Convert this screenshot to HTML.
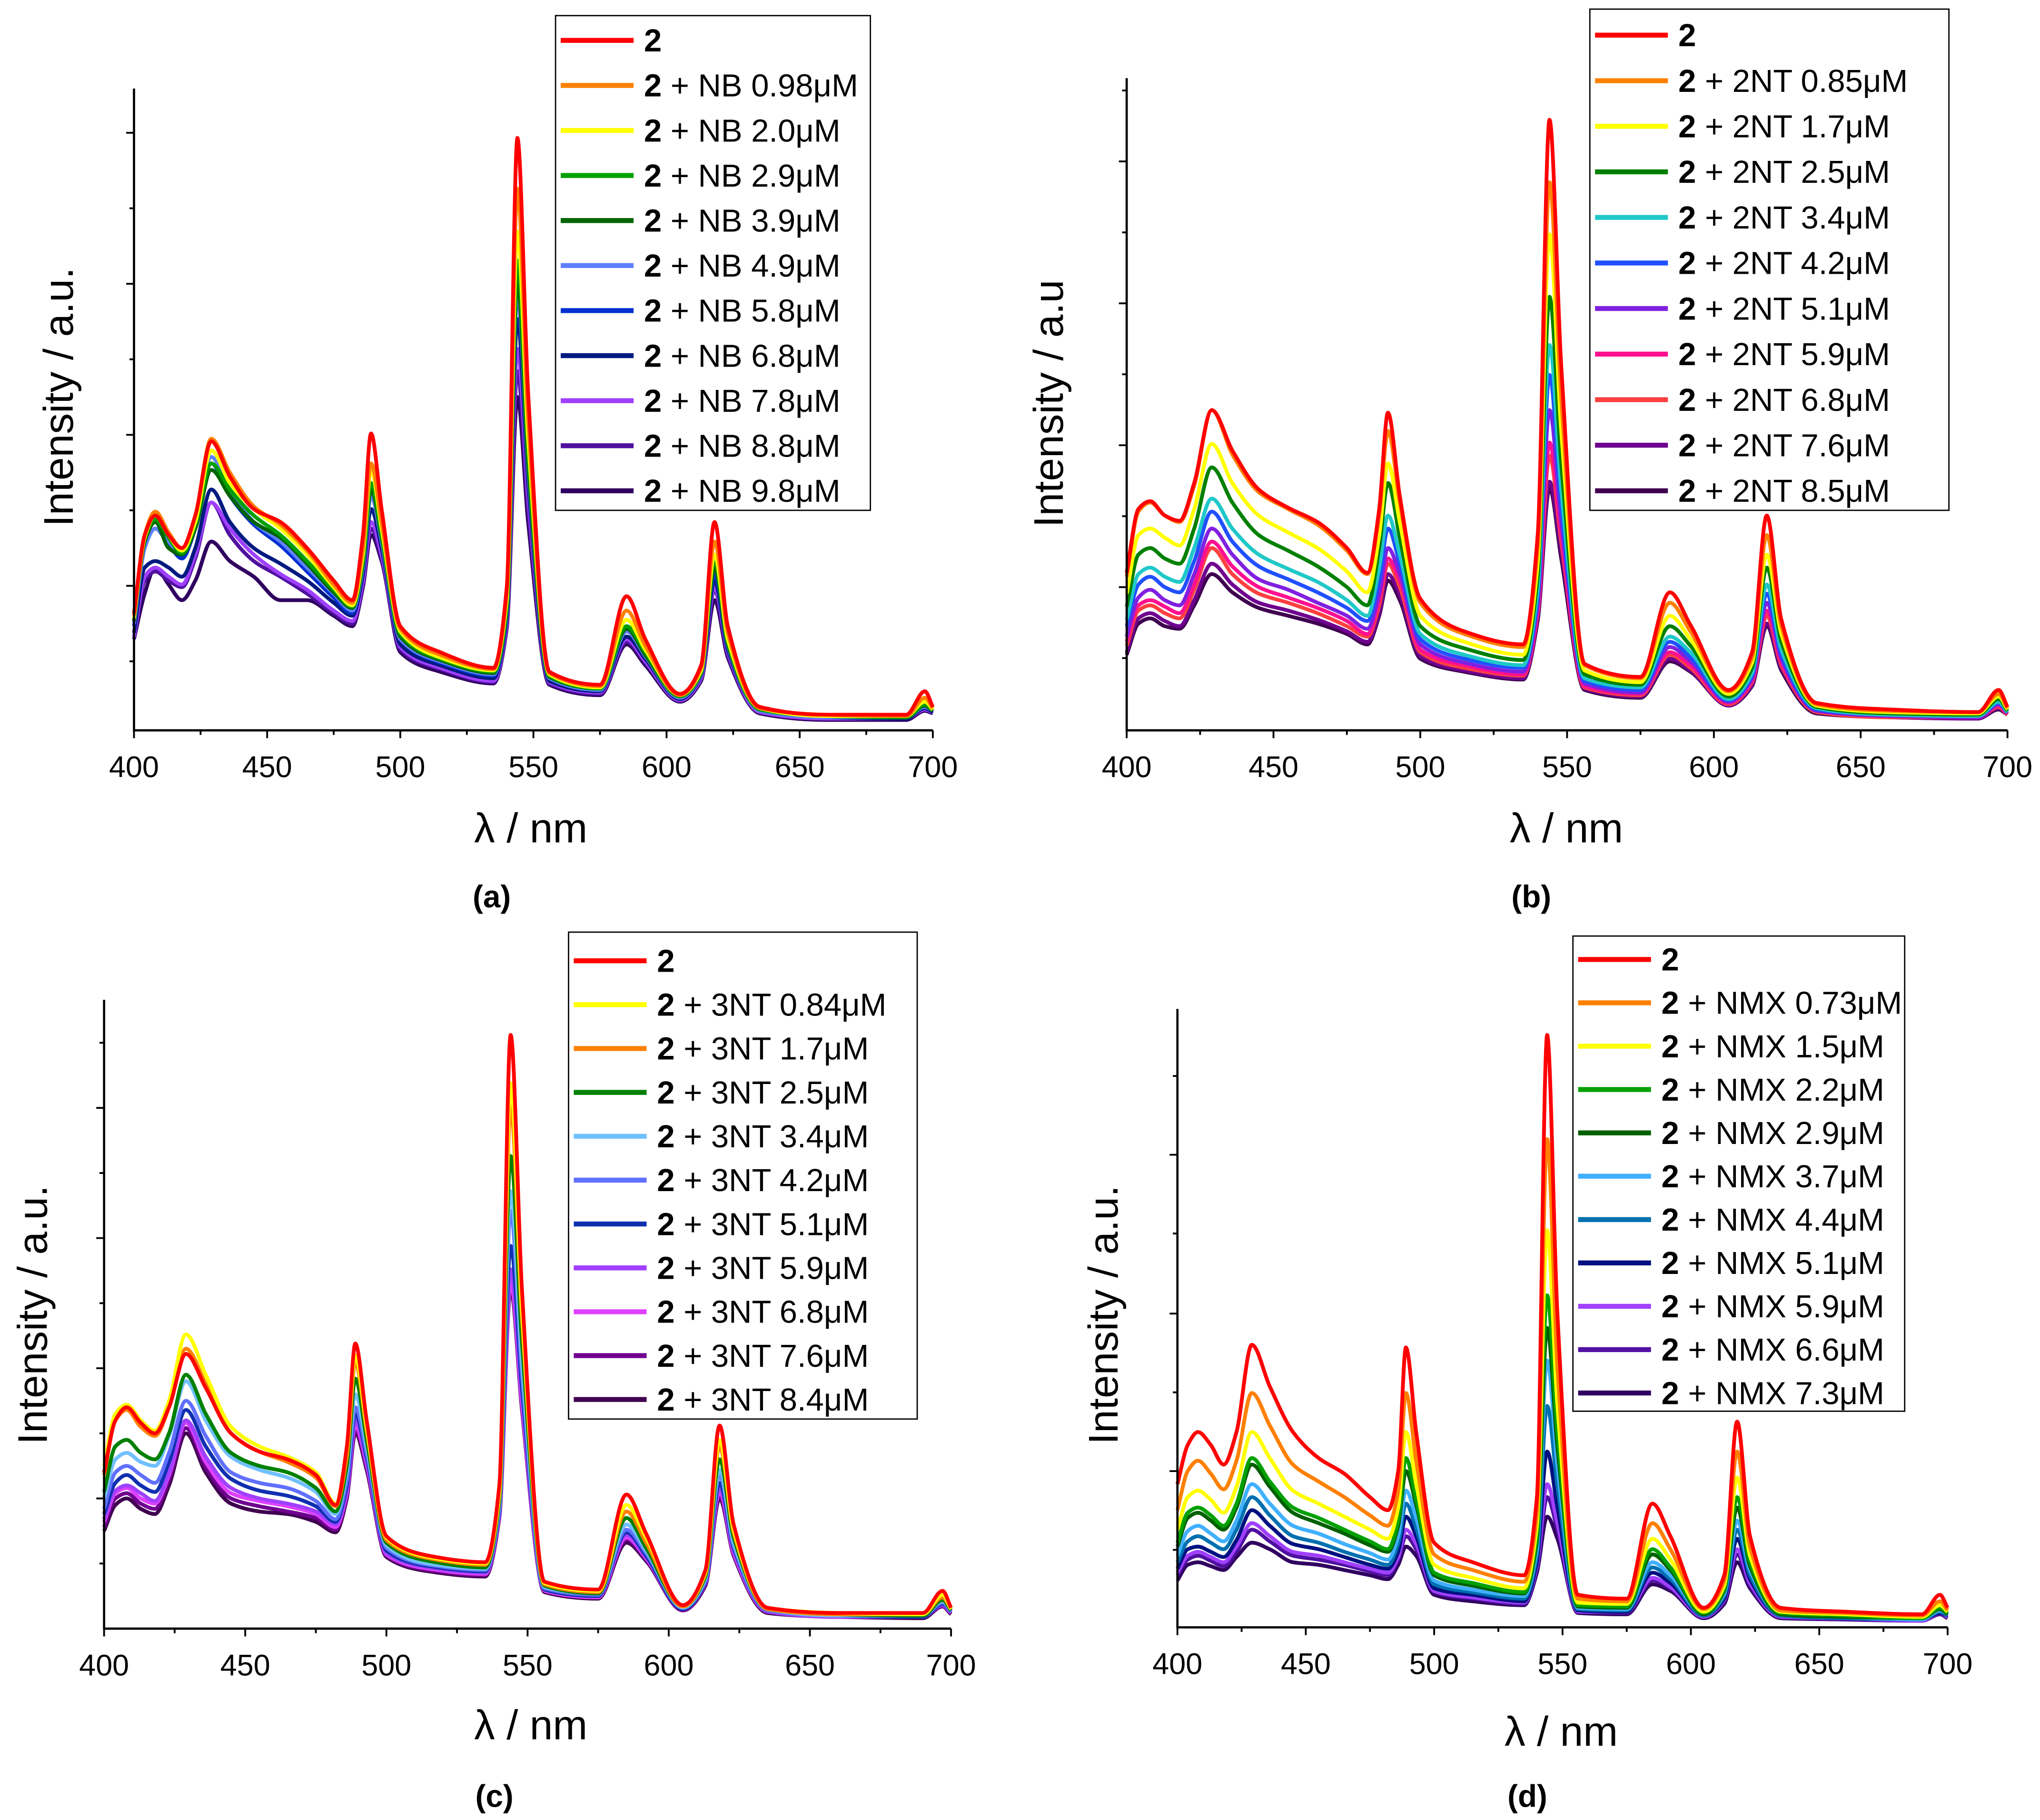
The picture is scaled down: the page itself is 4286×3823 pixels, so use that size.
<!DOCTYPE html>
<html><head><meta charset="utf-8"><style>
html,body{margin:0;padding:0;background:#fff;}
svg{display:block;}
text{font-family:"Liberation Sans",sans-serif;}
</style></head><body>
<svg id="fig" width="4286" height="3823" viewBox="0 0 1568 1398" preserveAspectRatio="none" xmlns="http://www.w3.org/2000/svg"></svg>
<script>
const wavelengths=[400,404,408,413,418,423,429,436,445,455,465,475,482,486,489,493,500,515,535,540,544,548,556,575,585,592,605,613,618,623,635,660,690,697,700];
const xTickLabels=[400,450,500,550,600,650,700];

const seriesA=[
[90,150,165,150,140,165,222,195,170,160,140,115,100,150,228,170,80,60,48,110,455,260,45,35,103,70,28,50,160,80,18,12,12,30,18],
[88,150,168,152,140,165,224,198,172,158,138,112,98,140,205,160,78,58,47,105,416,240,44,34,92,65,27,48,145,75,17,12,11,25,17],
[86,148,165,150,138,160,215,190,170,155,135,110,96,135,200,155,76,56,46,100,383,225,43,33,85,62,27,46,135,70,17,11,11,22,16],
[85,148,162,148,136,158,205,185,165,150,130,108,95,130,190,150,74,55,45,95,361,215,42,32,80,60,26,45,130,68,16,11,10,20,16],
[84,145,160,140,135,155,200,180,160,148,128,106,94,128,185,148,72,54,44,92,346,205,41,32,78,58,26,44,125,66,16,11,10,19,15],
[82,140,155,145,135,158,210,185,160,145,125,105,92,125,180,145,70,53,43,90,339,200,40,31,76,57,25,43,125,65,15,10,10,18,15],
[80,140,155,143,132,155,205,180,158,142,122,102,90,128,185,145,70,52,42,90,336,200,40,31,76,57,25,43,120,64,15,10,10,18,15],
[75,125,130,125,118,140,185,160,140,128,115,98,88,120,170,140,66,50,40,86,316,190,38,30,72,55,24,42,115,62,15,10,9,17,14],
[72,118,125,118,112,135,175,155,135,120,108,92,84,115,160,135,64,48,38,82,293,180,37,29,70,53,23,40,110,60,14,9,9,16,14],
[70,115,122,115,110,132,175,150,130,118,105,90,82,112,155,132,62,47,37,80,276,170,36,28,68,52,23,40,108,58,14,9,9,16,13],
[70,105,125,112,100,115,145,130,118,100,100,88,80,110,150,130,60,45,36,78,256,160,35,27,66,50,22,38,100,56,13,8,8,15,13]];
const seriesB=[
[121,170,176,165,161,190,246,215,185,171,160,140,121,170,244,180,101,76,66,150,469,280,51,41,106,81,31,60,165,85,21,16,14,31,18],
[118,168,175,165,160,188,246,212,183,170,158,138,120,165,230,175,98,74,64,140,421,255,50,40,98,76,30,56,150,80,20,15,14,28,17],
[105,150,155,148,142,170,220,190,165,152,140,122,106,150,205,160,88,68,58,128,381,230,46,37,88,70,28,52,135,74,19,14,13,26,16],
[95,135,140,132,128,155,202,175,150,138,126,110,96,140,190,148,80,63,54,118,333,205,43,35,80,65,26,48,125,68,18,13,12,24,15],
[85,120,125,118,114,140,178,155,135,124,114,100,88,125,165,135,74,58,50,108,296,185,40,33,72,60,24,44,112,62,17,12,11,22,14],
[80,112,118,110,106,130,168,145,126,116,106,94,84,115,155,128,70,55,48,102,273,172,38,31,68,56,23,42,105,58,16,12,11,21,14],
[72,102,108,100,96,120,155,135,116,108,98,88,78,105,140,120,66,52,45,96,246,160,36,29,64,53,22,40,98,55,15,11,10,20,13],
[68,96,100,95,90,112,145,126,110,102,94,84,74,100,132,115,62,50,43,92,221,150,34,28,60,50,21,38,92,52,15,11,10,19,13],
[65,92,96,90,86,108,140,120,105,98,90,80,72,96,128,110,60,48,42,90,211,145,33,27,58,48,20,37,88,50,14,10,10,18,12],
[60,86,90,84,80,100,128,112,98,92,85,76,68,90,120,104,57,46,40,86,191,138,32,26,55,46,19,35,82,48,14,10,9,17,12],
[58,82,86,80,78,96,120,106,94,88,82,74,66,88,115,100,55,45,39,84,186,132,31,25,53,45,19,34,80,46,13,10,9,16,12]];
const seriesC=[
[120,160,170,158,150,170,211,185,150,136,130,118,95,140,219,160,71,56,51,110,456,260,36,30,103,73,18,45,156,80,16,12,12,29,16],
[125,165,172,160,152,175,226,195,155,140,132,120,96,138,210,155,70,55,50,105,419,245,35,29,95,70,18,43,145,76,16,12,11,26,15],
[118,160,168,155,148,170,215,188,150,136,128,116,94,132,205,152,68,54,49,102,401,238,34,28,90,66,17,42,140,74,15,11,11,24,15],
[105,140,145,135,130,150,195,165,135,125,120,108,90,125,192,145,66,52,47,98,363,220,33,27,85,62,17,40,130,70,15,11,10,22,14],
[100,130,135,128,125,148,190,160,132,122,116,105,88,120,180,140,64,50,46,95,336,205,32,27,80,60,16,38,122,66,15,10,10,21,14],
[92,120,125,118,112,135,175,148,120,112,108,98,84,114,170,135,62,49,45,92,321,195,31,26,76,58,16,37,118,64,14,10,10,20,13],
[88,112,118,110,105,128,168,140,115,106,102,94,82,110,165,132,60,48,44,90,294,185,30,25,74,56,15,36,112,62,14,10,9,19,13],
[84,106,110,104,98,120,160,132,108,100,96,90,80,106,160,128,58,47,43,88,276,178,30,25,72,55,15,35,108,60,13,9,9,18,12],
[82,104,108,100,96,118,158,128,104,98,94,88,78,104,156,126,57,46,42,87,266,172,29,24,70,54,15,35,105,58,13,9,9,18,12],
[78,100,104,96,92,114,154,124,100,94,90,85,76,102,152,124,56,45,41,86,266,170,29,24,68,53,14,34,102,57,13,9,9,17,12],
[75,95,100,92,88,110,150,120,96,90,88,82,74,100,150,122,55,44,40,85,261,168,28,23,66,52,14,33,100,56,12,9,8,17,11]];
const seriesD=[
[110,140,150,140,125,150,217,185,150,130,118,100,90,120,215,150,65,50,40,100,455,240,25,22,95,70,15,40,158,70,15,12,10,25,15],
[90,120,128,118,106,128,180,155,125,112,100,86,78,105,180,128,56,44,35,88,375,200,22,20,80,60,14,36,135,62,13,11,9,20,13],
[75,100,105,98,88,108,150,130,105,95,85,75,68,92,150,110,48,38,30,78,305,170,19,18,68,52,12,32,115,55,12,10,8,17,12],
[65,88,92,86,78,95,130,112,92,84,75,66,60,82,130,98,42,34,27,70,255,148,17,16,60,46,11,29,100,50,11,9,7,15,11],
[62,84,88,82,75,92,125,108,88,80,72,63,58,78,120,94,40,32,26,66,230,138,16,15,56,44,10,28,92,47,10,8,7,14,10],
[55,74,78,72,66,82,110,95,78,72,64,57,52,70,105,84,36,29,24,60,205,124,15,14,50,40,10,26,82,44,10,8,6,13,10],
[50,66,70,65,60,75,100,86,70,65,58,52,48,64,95,76,33,27,22,55,170,108,14,13,46,37,9,24,75,40,9,7,6,12,9],
[45,60,62,58,54,67,90,78,64,60,54,48,45,58,85,70,30,25,20,50,135,92,13,12,42,34,9,22,68,37,9,7,6,11,9],
[42,55,58,54,50,62,80,70,58,55,50,45,42,54,75,64,28,23,19,47,110,80,12,12,38,31,8,21,60,34,8,7,5,11,8],
[40,52,55,51,47,58,75,66,55,52,48,43,40,52,70,60,27,22,18,45,100,75,12,11,36,30,8,20,56,32,8,6,5,10,8],
[36,48,50,47,44,54,65,60,50,48,44,40,37,48,62,55,25,20,17,42,85,68,11,10,33,28,7,18,50,30,7,6,5,10,7]];

const labelsA=["","NB 0.98μM","NB 2.0μM","NB 2.9μM","NB 3.9μM","NB 4.9μM","NB 5.8μM","NB 6.8μM","NB 7.8μM","NB 8.8μM","NB 9.8μM"];
const labelsB=["","2NT 0.85μM","2NT 1.7μM","2NT 2.5μM","2NT 3.4μM","2NT 4.2μM","2NT 5.1μM","2NT 5.9μM","2NT 6.8μM","2NT 7.6μM","2NT 8.5μM"];
const labelsC=["","3NT 0.84μM","3NT 1.7μM","3NT 2.5μM","3NT 3.4μM","3NT 4.2μM","3NT 5.1μM","3NT 5.9μM","3NT 6.8μM","3NT 7.6μM","3NT 8.4μM"];
const labelsD=["","NMX 0.73μM","NMX 1.5μM","NMX 2.2μM","NMX 2.9μM","NMX 3.7μM","NMX 4.4μM","NMX 5.1μM","NMX 5.9μM","NMX 6.6μM","NMX 7.3μM"];

const yTicksA=[111,227,343,459], yTicksB=[110,219,328,437], yTicksC=[100,200,300,400], yTicksD=[120,241,363];

const colorsA=["#ff0000","#ff8000","#ffff00","#00a000","#006400","#6080ff","#0030d0","#001a80","#a040ff","#5010a0","#300060"];
const colorsB=["#ff0000","#ff8000","#ffff00","#008000","#20c8c8","#2050ff","#8020e0","#ff1090","#ff4040","#700090","#400050"];
const colorsC=["#ff0000","#ffff00","#ff8000","#008000","#70c0ff","#6070ff","#1030b0","#a040ff","#e040ff","#700090","#400050"];
const colorsD=["#ff0000","#ff8000","#ffff00","#00a000","#006000","#40b0ff","#0070b0","#001080","#a040ff","#5010a0","#300060"];

const panels=[
 {id:"a",x0:103,x1:717,yb:561,yt:68,ymax:493,series:seriesA,labels:labelsA,colors:colorsA,ticks:yTicksA,ytitle:"Intensity / a.u.",ytx:45,yty:305,xtx:408,xty:636,cap:[378,689],lg:[427,12,242,380,31,34.6]},
 {id:"b",x0:866,x1:1543,yb:561,yt:60,ymax:501,series:seriesB,labels:labelsB,colors:colorsB,ticks:yTicksB,ytitle:"Intensity / a.u",ytx:806,yty:310,xtx:1204,xty:636,cap:[1177,689],lg:[1222,7,276,385,27,35]},
 {id:"c",x0:80,x1:731,yb:1251,yt:768,ymax:483,series:seriesC,labels:labelsC,colors:colorsC,ticks:yTicksC,ytitle:"Intensity / a.u.",ytx:25,yty:1010,xtx:408,xty:1325,cap:[380,1380],lg:[437,716,268,374,738,33.7]},
 {id:"d",x0:905,x1:1497,yb:1250,yt:775,ymax:475,series:seriesD,labels:labelsD,colors:colorsD,ticks:yTicksD,ytitle:"Intensity / a.u.",ytx:848,yty:1010,xtx:1200,xty:1330,cap:[1174,1380],lg:[1209,719,255,365,737,33.3]}
];
const NS="http://www.w3.org/2000/svg";
const svg=document.getElementById('fig');
function mk(tag,attrs,parent){const e=document.createElementNS(NS,tag);for(const k in attrs)e.setAttribute(k,attrs[k]);(parent||svg).appendChild(e);return e;}
// monotone cubic (Fritsch-Carlson): no overshoot
function monotone(pts){
 const n=pts.length,dx=[],s=[],m=new Array(n);
 for(let i=0;i<n-1;i++){dx[i]=pts[i+1][0]-pts[i][0];s[i]=(pts[i+1][1]-pts[i][1])/dx[i];}
 m[0]=s[0];m[n-1]=s[n-2];
 for(let i=1;i<n-1;i++){
  if(s[i-1]*s[i]<=0)m[i]=0;
  else{const w1=2*dx[i]+dx[i-1],w2=dx[i]+2*dx[i-1];m[i]=(w1+w2)/(w1/s[i-1]+w2/s[i]);}
 }
 let d='M'+pts[0][0].toFixed(1)+' '+pts[0][1].toFixed(1);
 for(let i=0;i<n-1;i++){
  const h=dx[i]/3;
  d+=` C${(pts[i][0]+h).toFixed(1)} ${(pts[i][1]+m[i]*h).toFixed(1)} ${(pts[i+1][0]-h).toFixed(1)} ${(pts[i+1][1]-m[i+1]*h).toFixed(1)} ${pts[i+1][0].toFixed(1)} ${pts[i+1][1].toFixed(1)}`;
 }
 return d;
}

panels.forEach(p=>{
 const g=mk('g',{});
 
 
 const xs=v=>p.x0+(v-400)/300*(p.x1-p.x0);
 const ys=v=>p.yb-v/p.ymax*(p.yb-p.yt);
 for(let s=p.series.length-1;s>=0;s--){
  const pts=p.series[s].map((v,i)=>[xs(wavelengths[i]),ys(v)]);
  const path=mk('path',{d:monotone(pts),fill:'none',stroke:p.colors[s],'stroke-width':2.9,'stroke-linejoin':'round'},g);
  
  
 }
 const ax=mk('path',{d:`M${p.x0} ${p.yt} L${p.x0} ${p.yb} L${p.x1} ${p.yb}`,fill:'none',stroke:'#000','stroke-width':1.7},g);
 
 
 for(let v=400;v<=700;v+=25){
  const major=v%50===0;
  mk('line',{x1:xs(v),x2:xs(v),y1:p.yb,y2:p.yb+(major?6:3.5),stroke:'#000','stroke-width':1.4},g);
 }
 xTickLabels.forEach(v=>{
  const t=mk('text',{x:xs(v),y:p.yb+36,'font-size':23,'text-anchor':'middle'},g);
  t.textContent=v;
  
  
 });
 const step=p.ticks[1]-p.ticks[0];
 p.ticks.forEach(v=>{
  mk('line',{x1:p.x0-6,x2:p.x0,y1:ys(v),y2:ys(v),stroke:'#000','stroke-width':1.4},g);
  mk('line',{x1:p.x0-3.5,x2:p.x0,y1:ys(v-step/2),y2:ys(v-step/2),stroke:'#000','stroke-width':1.4},g);
 });
 const last=p.ticks[p.ticks.length-1]+step/2;
 if(last<p.ymax) mk('line',{x1:p.x0-3.5,x2:p.x0,y1:ys(last),y2:ys(last),stroke:'#000','stroke-width':1.4},g);
 const yt=mk('text',{x:p.ytx,y:p.yty,'font-size':32,'text-anchor':'middle',transform:`rotate(-90 ${p.ytx} ${p.yty})`,dy:11},g);
 yt.textContent=p.ytitle;
 
 
 const xt=mk('text',{x:p.xtx,y:p.xty+11,'font-size':32,'text-anchor':'middle'},g);
 xt.textContent="λ / nm";
 
 
 const cap=mk('text',{x:p.cap[0],y:p.cap[1]+8,'font-size':24,'text-anchor':'middle','font-family':'Liberation Serif, serif','font-weight':'bold'},g);
 cap.textContent="("+p.id+")";
 
 
 const [lx,ly,lw,lh,r0,rs]=p.lg;
 const lg=mk('g',{},g);
 
 
 mk('rect',{x:lx,y:ly,width:lw,height:lh,fill:'#fff',stroke:'#000','stroke-width':1},lg);
 p.labels.forEach((lab,i)=>{
  const yy=r0+i*rs;
  const en=mk('g',{},lg);
  
  
  mk('line',{x1:lx+4,x2:lx+60,y1:yy,y2:yy,stroke:p.colors[i],'stroke-width':3.8},en);
  const t=mk('text',{x:lx+68,y:yy+8.5,'font-size':24.5},en);
  const b=mk('tspan',{'font-weight':'bold'},t);b.textContent="2";
  if(lab){const r=mk('tspan',{},t);r.textContent=" + "+lab;}
 });
});
</script>
</body></html>
